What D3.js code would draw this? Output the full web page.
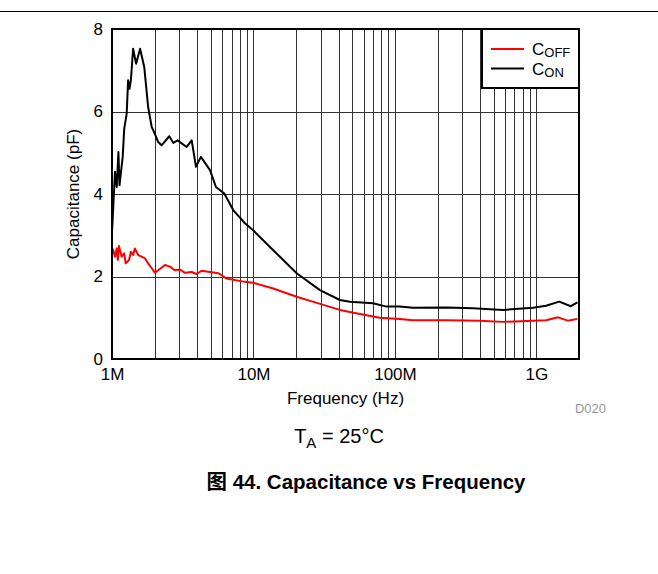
<!DOCTYPE html>
<html>
<head>
<meta charset="utf-8">
<script src="https://cdn.jsdelivr.net/npm/d3@7"></script>
<style>
  html, body { margin: 0; padding: 0; background: #fff; }
  svg { display: block; font-family: "Liberation Sans", Arial, sans-serif; }
</style>
</head>
<body>
<svg id="chart" width="658" height="574"></svg>
<script>
// Frequency in MHz, capacitance in pF
const conFreq = [1, 1.05, 1.08, 1.11, 1.13, 1.19, 1.22, 1.27, 1.30, 1.33, 1.36, 1.41, 1.48, 1.58, 1.69, 1.80, 1.91, 2.01, 2.12, 2.24, 2.54, 2.71, 2.91, 3.37, 3.66, 3.92, 4.25, 4.93, 5.43, 6.22, 7.19, 8.70, 9.95, 13.4, 20.2, 29.5, 40.8, 48, 70, 87, 108, 134, 232, 357, 580, 946, 1170, 1450, 1750, 1950];
const conValues = [3.08, 4.54, 4.17, 5.02, 4.21, 4.90, 5.58, 5.95, 6.76, 6.55, 6.76, 7.52, 7.16, 7.52, 7.08, 6.11, 5.62, 5.46, 5.26, 5.18, 5.40, 5.24, 5.30, 5.14, 5.30, 4.66, 4.90, 4.58, 4.17, 4.01, 3.61, 3.29, 3.12, 2.68, 2.08, 1.67, 1.43, 1.39, 1.35, 1.27, 1.27, 1.24, 1.25, 1.23, 1.19, 1.24, 1.29, 1.39, 1.28, 1.37];

const coffFreq = [1, 1.02, 1.05, 1.08, 1.10, 1.12, 1.17, 1.22, 1.25, 1.32, 1.36, 1.41, 1.45, 1.53, 1.62, 1.71, 1.80, 1.91, 2.01, 2.12, 2.37, 2.57, 2.78, 3.02, 3.28, 3.66, 3.96, 4.30, 5.64, 5.95, 6.45, 8.7, 9.95, 13.8, 20.2, 28, 40.8, 56.5, 78, 108, 134, 232, 397, 580, 946, 1170, 1420, 1670, 1950];
const coffValues = [2.69, 2.64, 2.48, 2.68, 2.40, 2.74, 2.48, 2.56, 2.32, 2.40, 2.60, 2.52, 2.68, 2.52, 2.48, 2.44, 2.32, 2.20, 2.09, 2.15, 2.28, 2.24, 2.15, 2.17, 2.09, 2.11, 2.06, 2.14, 2.08, 2.03, 1.95, 1.87, 1.85, 1.71, 1.51, 1.36, 1.19, 1.09, 1.00, 0.97, 0.94, 0.94, 0.93, 0.90, 0.93, 0.94, 1.01, 0.93, 0.97];

const xTickValues = [1, 10, 100, 1000];
const xTickLabels = ["1M", "10M", "100M", "1G"];
const yTickValues = [0, 2, 4, 6, 8];

const seriesNames = ["C|OFF", "C|ON"];
const seriesColors = ["#ff0000", "#000000"];

const svg = d3.select("#chart");
const plotLeft = 112, plotRight = 579, plotTop = 29, plotBottom = 359;
const axisFont = 17;

const x = d3.scaleLog().domain([1, 2000]).range([plotLeft, plotRight]);
const y = d3.scaleLinear().domain([0, 8]).range([plotBottom, plotTop]);

// Rule across the top of the page
svg.append("line").attr("x1", 0).attr("x2", 658).attr("y1", 11.5).attr("y2", 11.5)
  .attr("stroke", "#000").attr("stroke-width", 1);

// Vertical grid: every 1..9 multiple of each decade
const gridX = [];
for (let d = 1; d <= 1000; d *= 10) for (let m = 1; m <= 9; m++) { const v = d * m; if (v > 1 && v < 2000) gridX.push(v); }
svg.append("g").selectAll("line").data(gridX).join("line")
  .attr("x1", d => Math.round(x(d)) + 0.5).attr("x2", d => Math.round(x(d)) + 0.5)
  .attr("y1", plotTop).attr("y2", plotBottom)
  .attr("stroke", "#333").attr("stroke-width", 1);

svg.append("g").selectAll("line").data([2, 4, 6]).join("line")
  .attr("x1", plotLeft).attr("x2", plotRight)
  .attr("y1", d => Math.round(y(d)) + 0.5).attr("y2", d => Math.round(y(d)) + 0.5)
  .attr("stroke", "#333").attr("stroke-width", 1);

// Axes (labels only; frame drawn separately)
const xAxis = d3.axisBottom(x).tickValues(xTickValues).tickFormat((d, i) => xTickLabels[i]).tickSize(0).tickPadding(9);
const gx = svg.append("g").attr("transform", `translate(0,${plotBottom})`).call(xAxis);
gx.select(".domain").remove();
gx.selectAll("text").attr("font-size", axisFont).attr("fill", "#000").attr("font-family", "Liberation Sans, Arial, sans-serif");

const yAxis = d3.axisLeft(y).tickValues(yTickValues).tickFormat(d3.format("d")).tickSize(0).tickPadding(9);
const gy = svg.append("g").attr("transform", `translate(${plotLeft},0)`).call(yAxis);
gy.select(".domain").remove();
gy.selectAll("text").attr("font-size", axisFont).attr("fill", "#000").attr("font-family", "Liberation Sans, Arial, sans-serif");

// Curves
const line = d3.line().x(d => x(d[0])).y(d => y(d[1]));
const series = [
  d3.zip(coffFreq, coffValues),
  d3.zip(conFreq, conValues)
];
svg.append("g").selectAll("path").data(series).join("path")
  .attr("d", line)
  .attr("fill", "none")
  .attr("stroke", (d, i) => seriesColors[i])
  .attr("stroke-width", 2)
  .attr("stroke-linejoin", "round");

// Plot frame
svg.append("rect").attr("x", plotLeft).attr("y", plotTop).attr("width", plotRight - plotLeft).attr("height", plotBottom - plotTop)
  .attr("fill", "none").attr("stroke", "#000").attr("stroke-width", 2);

// Legend
const lg = svg.append("g");
lg.append("rect").attr("x", 482).attr("y", 29).attr("width", plotRight - 482).attr("height", 59)
  .attr("fill", "#fff").attr("stroke", "#000").attr("stroke-width", 2);
seriesNames.forEach((name, i) => {
  const [main, sub] = name.split("|");
  const ly = 49 + i * 19.5;
  lg.append("line").attr("x1", 491).attr("x2", 524).attr("y1", ly).attr("y2", ly)
    .attr("stroke", seriesColors[i]).attr("stroke-width", 2);
  const t = lg.append("text").attr("x", 532).attr("y", ly + 6).attr("font-size", 17).attr("fill", "#000");
  t.append("tspan").text(main);
  t.append("tspan").attr("font-size", 13).attr("dy", 2).text(sub);
});

// Axis titles
svg.append("text").attr("x", 345.5).attr("y", 404).attr("text-anchor", "middle")
  .attr("font-size", axisFont).text("Frequency (Hz)");
svg.append("text").attr("transform", "translate(79,194) rotate(-90)").attr("text-anchor", "middle")
  .attr("font-size", axisFont).text("Capacitance (pF)");

svg.append("text").attr("x", 606).attr("y", 413).attr("text-anchor", "end")
  .attr("font-size", 13).attr("fill", "#999").text("D020");

// Condition note
const note = svg.append("text").attr("x", 339).attr("y", 443).attr("text-anchor", "middle").attr("font-size", 20);
note.append("tspan").text("T");
note.append("tspan").attr("font-size", 15).attr("dy", 5).text("A");
note.append("tspan").attr("dy", -5).text(" = 25°C");

// Figure caption
svg.append("text").attr("x", 366).attr("y", 489).attr("text-anchor", "middle")
  .attr("font-size", 20.5).attr("font-weight", "bold")
  .attr("font-family", "Liberation Sans, Arial, 'Noto Sans CJK SC', sans-serif")
  .text("图 44. Capacitance vs Frequency");
</script>
</body>
</html>
